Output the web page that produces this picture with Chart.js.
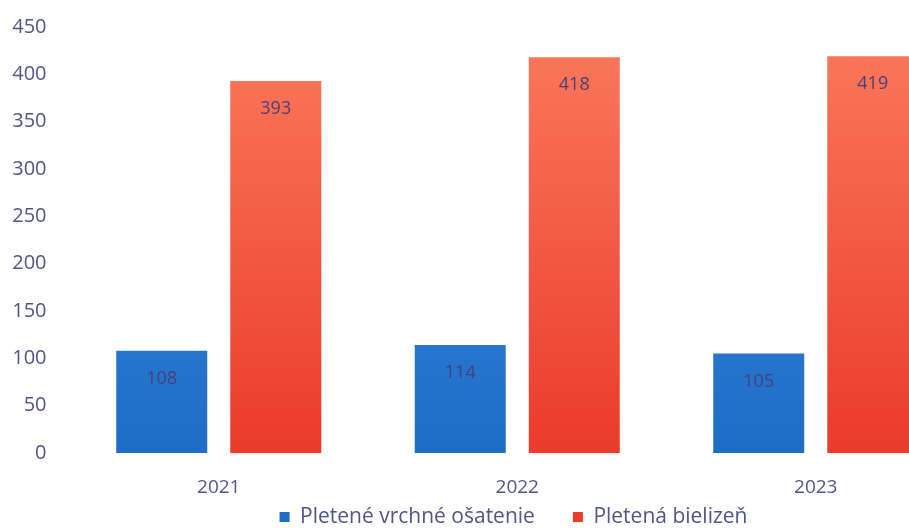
<!DOCTYPE html>
<html>
<head>
<meta charset="utf-8">
<script src="https://cdn.jsdelivr.net/npm/chart.js@4"></script>
<style>
  html, body { margin: 0; padding: 0; background: #fff; overflow: hidden; }
  #wrap { position: relative; width: 1035px; height: 528px; }
</style>
</head>
<body>
<div id="wrap"><canvas id="chart"></canvas></div>
<script>
// data
const years = ["2021", "2022", "2023"];
const outerwear = [108, 114, 105];
const underwear = [393, 418, 419];
const seriesNames = ["Pletené vrchné ošatenie", "Pletená bielizeň"];

const textColor = "#50558a";
const labelColor = "#4a3f7c";

const makeGradient = (chart, top, bottom) => {
    const area = chart.chartArea;
    if (!area) return bottom;
    const g = chart.ctx.createLinearGradient(0, area.top, 0, area.bottom);
    g.addColorStop(0, top);
    g.addColorStop(1, bottom);
    return g;
};

// value labels inside the top of each bar
const barLabels = {
    id: "barLabels",
    afterDatasetsDraw(chart) {
        const ctx = chart.ctx;
        ctx.save();
        ctx.font = "18px 'Open Sans'";
        ctx.fillStyle = labelColor;
        ctx.textAlign = "center";
        ctx.textBaseline = "middle";
        chart.data.datasets.forEach((ds, i) => {
            chart.getDatasetMeta(i).data.forEach((bar, j) => {
                ctx.fillText(ds.data[j], bar.x, bar.y + 28);
            });
        });
        ctx.restore();
    }
};

// small legend band; items drawn shifted into it
const legendFix = {
    id: "legendFix",
    beforeInit(chart) {
        const lg = chart.legend;
        const fit = lg.fit;
        lg.fit = function () {
            fit.call(this);
            this.height = 29;
        };
        const draw = lg._draw;
        lg._draw = function () {
            const ctx = this.ctx;
            ctx.save();
            ctx.translate(31, -30.5);
            draw.call(this);
            ctx.restore();
        };
    }
};

new Chart(document.getElementById("chart"), {
    type: "bar",
    data: {
        labels: years,
        datasets: [
            {
                label: seriesNames[0],
                data: outerwear,
                backgroundColor: c => makeGradient(c.chart, "#4592e3", "#1d6cc6"),
                borderWidth: 0
            },
            {
                label: seriesNames[1],
                data: underwear,
                backgroundColor: c => makeGradient(c.chart, "#fb7a5c", "#ea3b2b"),
                borderWidth: 0
            }
        ]
    },
    options: {
        responsive: true,
        maintainAspectRatio: false,
        animation: false,
        categoryPercentage: 0.764,
        barPercentage: 0.798,
        layout: { padding: { left: 0, right: 70, top: 10, bottom: 0 } },
        plugins: {
            legend: {
                position: "bottom",
                labels: {
                    color: textColor,
                    font: { family: "Open Sans", size: 21 },
                    boxWidth: 10,
                    boxHeight: 10,
                    padding: 38
                }
            },
            tooltip: { enabled: false }
        },
        scales: {
            x: {
                grid: { display: false },
                border: { display: false },
                afterFit: s => { s.height = 46; },
                ticks: { color: textColor, font: { family: "Open Sans", size: 19 }, padding: 15 }
            },
            y: {
                min: 0,
                max: 450,
                grid: { display: false },
                border: { display: false },
                afterFit: s => { s.width = 69.5; },
                ticks: {
                    stepSize: 50,
                    color: textColor,
                    font: { family: "Open Sans", size: 20 },
                    padding: 15
                }
            }
        }
    },
    plugins: [barLabels, legendFix]
});
</script>
</body>
</html>
